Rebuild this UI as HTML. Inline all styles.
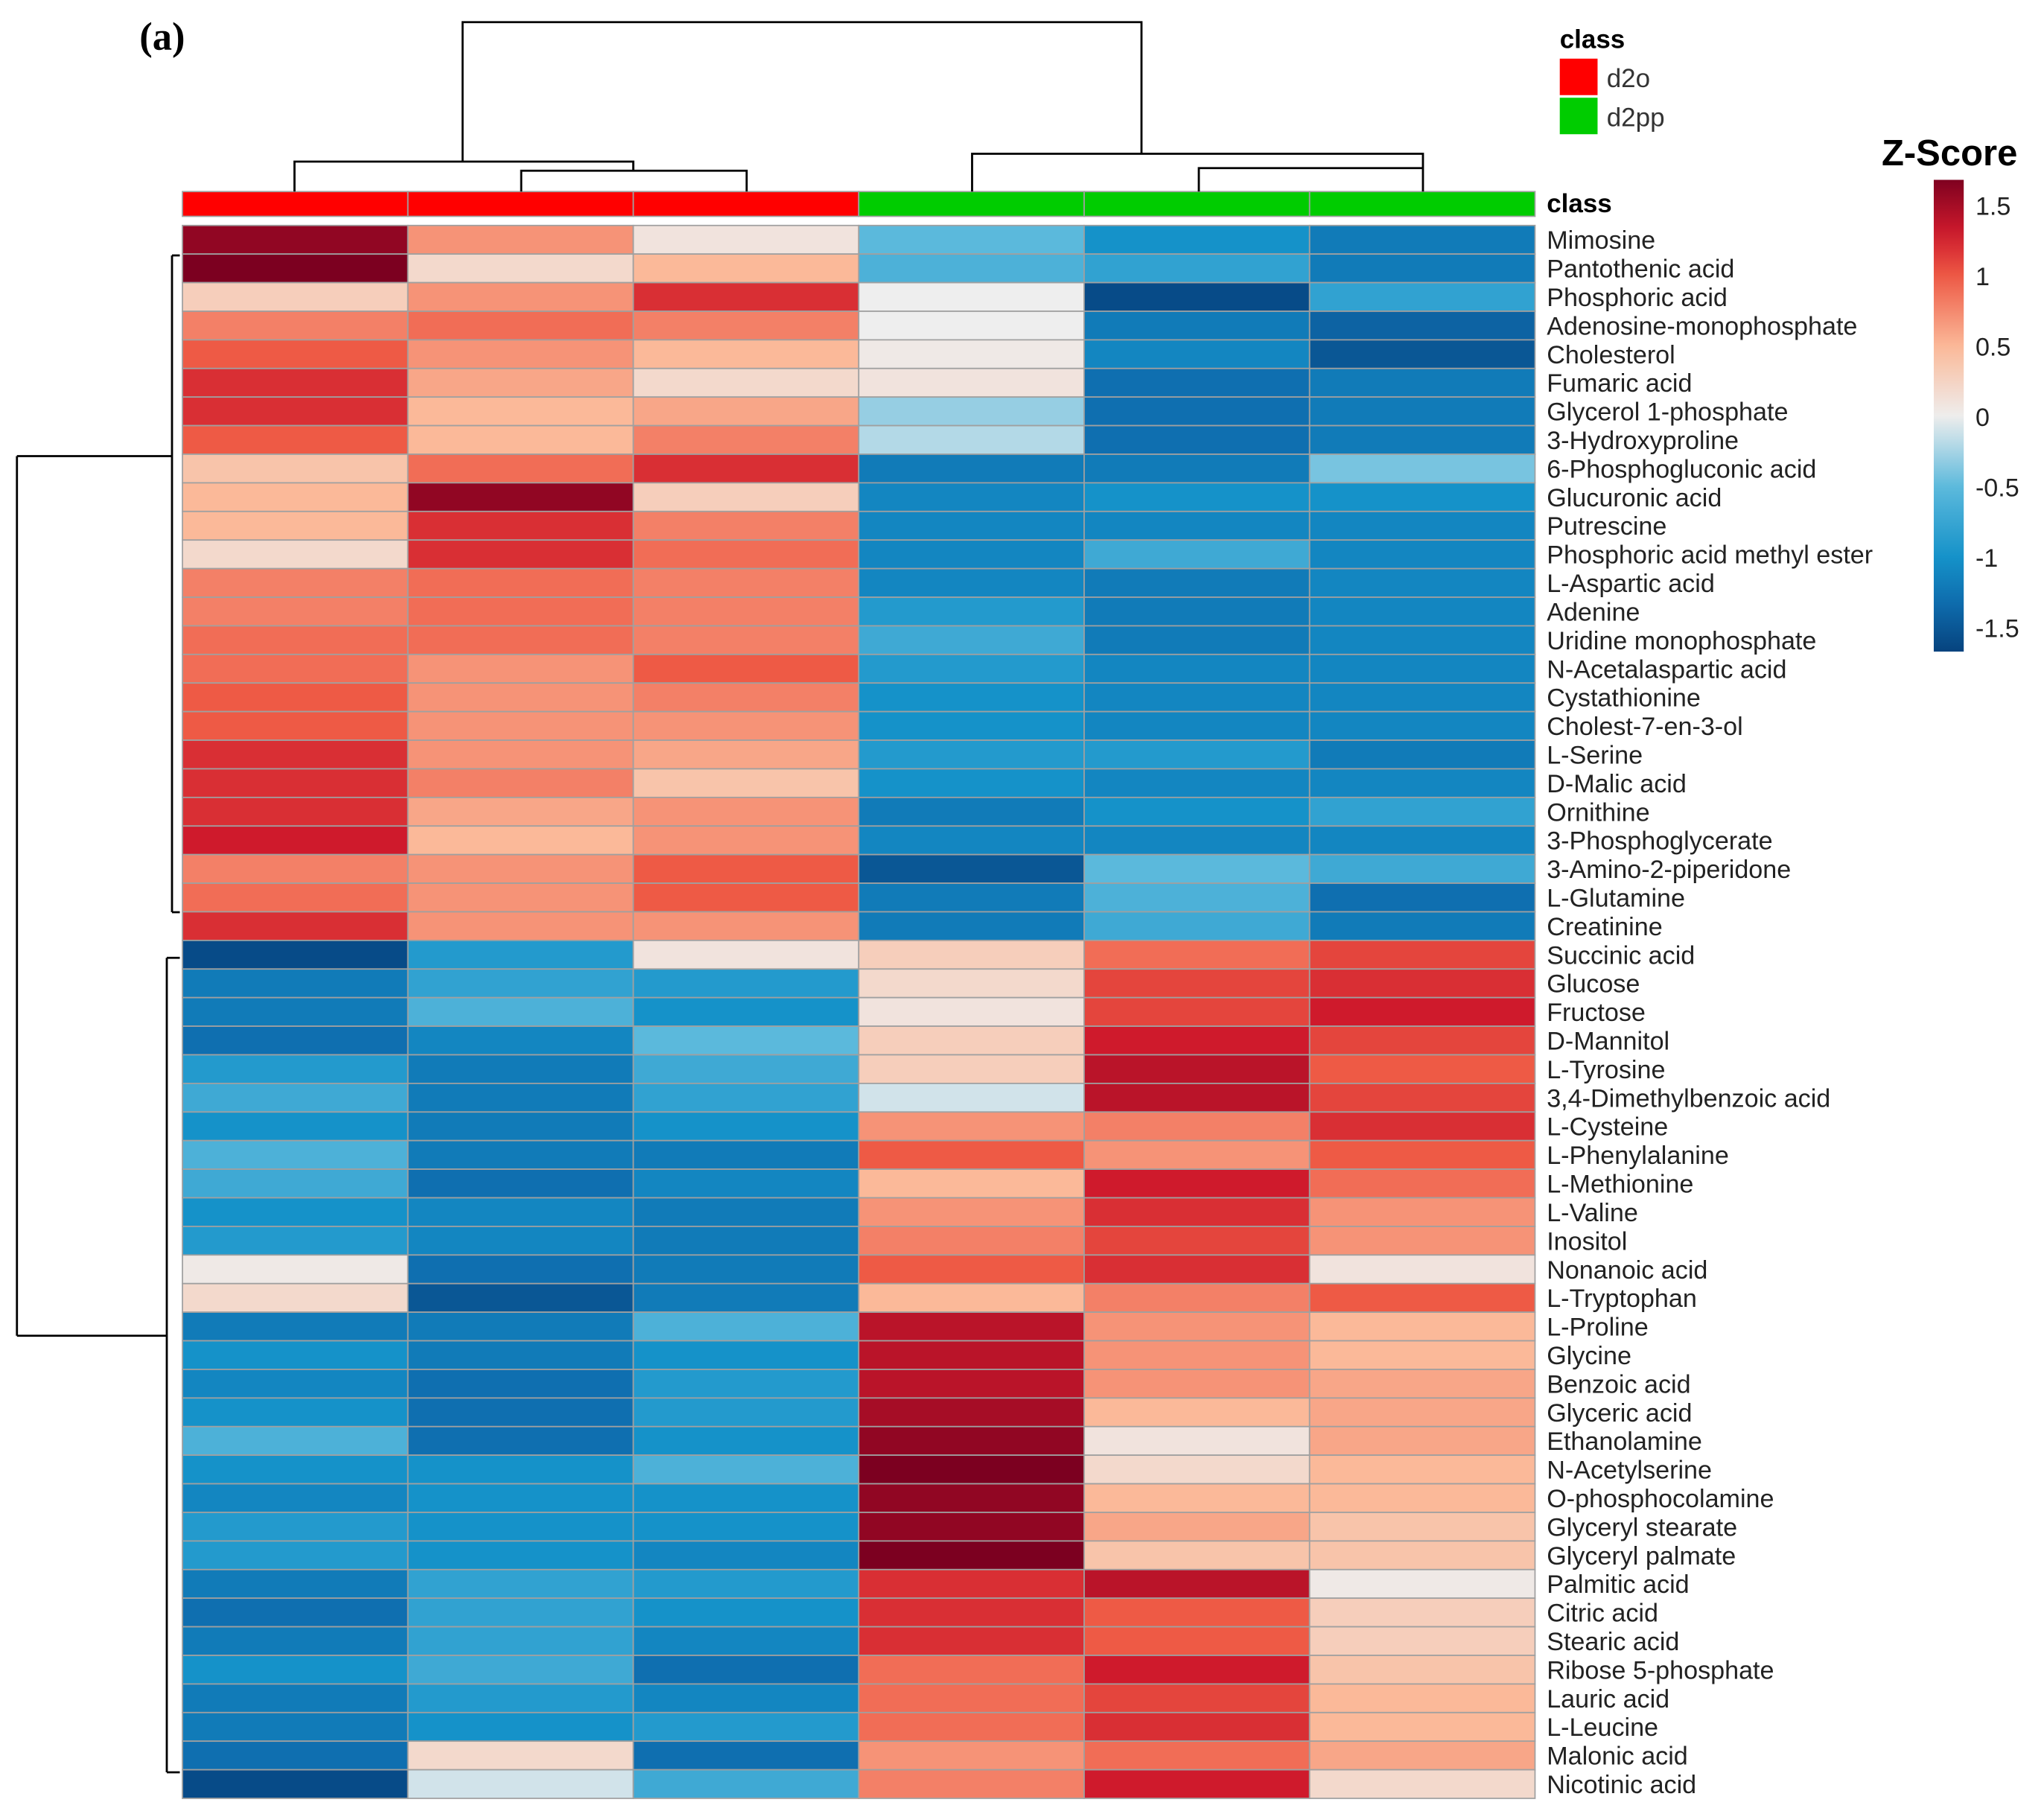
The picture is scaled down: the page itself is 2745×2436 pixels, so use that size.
<!DOCTYPE html>
<html><head><meta charset="utf-8"><style>
html,body{margin:0;padding:0;background:#fff;}
svg{display:block;font-family:"Liberation Sans",sans-serif;}
</style></head><body>
<svg id="chart" width="2745" height="2436" viewBox="0 0 1568.6 1392" preserveAspectRatio="none" xmlns="http://www.w3.org/2000/svg">
<text x="107" y="38" font-family="Liberation Serif" font-weight="bold" font-size="30">(a)</text>
<g id="cells"></g>
<g id="labels"></g>
<g id="dendro" stroke="#000" stroke-width="1.6" fill="none">
<path d="M355,124 V17 H876 V118 M226,147 V124 H486 V131 M400,147 V131 H573 V147 M486,131 V124 M746,147 V118 H1092 V129 M920,147 V129 H1092 V147"/>
<path d="M13,350 V1025 M13,350 H132 M13,1025 H128 M132,196 V700 M128,735 V1360 M132,196 H138 M132,700 H138 M128,735 H138 M128,1360 H138"/>
</g>
<text x="1187" y="163" font-weight="bold" font-size="20">class</text>
<g>
<text x="1197" y="37" font-weight="bold" font-size="20">class</text>
<rect x="1197" y="45" width="29" height="28" fill="#ff0000"/>
<text x="1233" y="67" font-size="20" fill="#333">d2o</text>
<rect x="1197" y="75" width="29" height="28" fill="#00cc00"/>
<text x="1233" y="97" font-size="20" fill="#333">d2pp</text>
</g>
<text x="1444" y="127" font-weight="bold" font-size="28">Z-Score</text>
<defs><linearGradient id="cg" x1="0" y1="1" x2="0" y2="0"></linearGradient></defs>
<rect x="1484" y="138" width="23" height="362" fill="url(#cg)"/>
<g id="cbticks"></g>
</svg>
<script>
const rowNames=["Mimosine","Pantothenic acid","Phosphoric acid","Adenosine-monophosphate","Cholesterol","Fumaric acid","Glycerol 1-phosphate","3-Hydroxyproline","6-Phosphogluconic acid","Glucuronic acid","Putrescine","Phosphoric acid methyl ester","L-Aspartic acid","Adenine","Uridine monophosphate","N-Acetalaspartic acid","Cystathionine","Cholest-7-en-3-ol","L-Serine","D-Malic acid","Ornithine","3-Phosphoglycerate","3-Amino-2-piperidone","L-Glutamine","Creatinine","Succinic acid","Glucose","Fructose","D-Mannitol","L-Tyrosine","3,4-Dimethylbenzoic acid","L-Cysteine","L-Phenylalanine","L-Methionine","L-Valine","Inositol","Nonanoic acid","L-Tryptophan","L-Proline","Glycine","Benzoic acid","Glyceric acid","Ethanolamine","N-Acetylserine","O-phosphocolamine","Glyceryl stearate","Glyceryl palmate","Palmitic acid","Citric acid","Stearic acid","Ribose 5-phosphate","Lauric acid","L-Leucine","Malonic acid","Nicotinic acid"];
const colClasses=["d2o","d2o","d2o","d2pp","d2pp","d2pp"];
const zValues=[
[1.6,0.7,0.1,-0.5,-1.0,-1.2],[1.7,0.2,0.5,-0.6,-0.8,-1.2],[0.3,0.7,1.2,0.0,-1.6,-0.8],[0.8,0.9,0.8,0.0,-1.2,-1.4],[1.0,0.7,0.5,0.05,-1.1,-1.5],
[1.2,0.6,0.2,0.1,-1.3,-1.2],[1.2,0.5,0.6,-0.3,-1.3,-1.2],[1.0,0.5,0.8,-0.2,-1.3,-1.2],[0.4,0.9,1.2,-1.2,-1.2,-0.4],[0.5,1.6,0.3,-1.1,-1.0,-1.0],
[0.5,1.2,0.8,-1.1,-1.1,-1.1],[0.2,1.2,0.9,-1.1,-0.7,-1.1],[0.8,0.9,0.8,-1.1,-1.2,-1.1],[0.8,0.9,0.8,-0.9,-1.2,-1.1],[0.9,0.9,0.8,-0.7,-1.2,-1.1],
[0.9,0.7,1.0,-0.9,-1.1,-1.1],[1.0,0.7,0.8,-1.0,-1.1,-1.1],[1.0,0.7,0.7,-1.0,-1.1,-1.1],[1.2,0.7,0.6,-0.9,-0.9,-1.2],[1.2,0.8,0.4,-1.0,-1.1,-1.1],
[1.2,0.6,0.7,-1.2,-1.0,-0.8],[1.3,0.5,0.7,-1.1,-1.1,-1.1],[0.8,0.7,1.0,-1.5,-0.5,-0.7],[0.9,0.7,1.0,-1.2,-0.6,-1.3],[1.2,0.7,0.7,-1.2,-0.7,-1.2],
[-1.6,-0.9,0.1,0.3,0.9,1.1],[-1.2,-0.8,-0.9,0.2,1.1,1.2],[-1.2,-0.6,-1.0,0.1,1.1,1.3],[-1.3,-1.1,-0.5,0.3,1.3,1.1],[-0.9,-1.2,-0.7,0.3,1.4,1.0],
[-0.7,-1.2,-0.8,-0.1,1.4,1.1],[-1.0,-1.2,-1.0,0.7,0.8,1.2],[-0.6,-1.2,-1.2,1.0,0.7,1.0],[-0.7,-1.3,-1.1,0.5,1.3,0.9],[-1.0,-1.1,-1.2,0.7,1.2,0.7],
[-0.9,-1.1,-1.2,0.8,1.1,0.7],[0.05,-1.3,-1.2,1.0,1.2,0.1],[0.2,-1.5,-1.2,0.5,0.8,1.0],[-1.2,-1.2,-0.6,1.4,0.7,0.5],[-1.0,-1.2,-1.0,1.4,0.7,0.5],
[-1.1,-1.3,-0.9,1.4,0.7,0.6],[-1.0,-1.3,-0.9,1.5,0.5,0.6],[-0.6,-1.3,-1.0,1.6,0.1,0.6],[-1.0,-1.0,-0.6,1.7,0.2,0.5],[-1.1,-1.0,-1.0,1.6,0.5,0.5],
[-0.9,-1.0,-1.0,1.6,0.6,0.4],[-0.9,-1.0,-1.1,1.7,0.4,0.4],[-1.2,-0.8,-0.9,1.2,1.4,0.05],[-1.3,-0.8,-1.0,1.2,1.0,0.3],[-1.2,-0.8,-1.1,1.2,1.0,0.3],
[-1.0,-0.7,-1.3,0.9,1.3,0.4],[-1.2,-0.9,-1.1,0.9,1.1,0.5],[-1.2,-1.0,-0.9,0.9,1.2,0.5],[-1.3,0.2,-1.3,0.7,0.9,0.6],[-1.6,-0.1,-0.7,0.8,1.3,0.2]];
const cbTicks=[1.5,1,0.5,0,-0.5,-1,-1.5];
const classColors={d2o:"#ff0000",d2pp:"#00cc00"};

const NS="http://www.w3.org/2000/svg";
const X0=140,X1=1178,Y0=173,Y1=1380,CB0=158,CB1=482;
const stops=[[-1.7,[5,63,122]],[-1.3,[15,111,176]],[-1.0,[21,146,201]],[-0.5,[91,185,220]],[0,[238,238,238]],[0.5,[251,185,153]],[1.0,[238,90,69]],[1.3,[207,26,44]],[1.7,[124,0,32]]];
function color(v){
  if(v<=stops[0][0])return rgb(stops[0][1]);
  for(let i=1;i<stops.length;i++){if(v<=stops[i][0]){const a=stops[i-1],b=stops[i],t=(v-a[0])/(b[0]-a[0]);return rgb(a[1].map((c,k)=>c+(b[1][k]-c)*t));}}
  return rgb(stops[stops.length-1][1]);
}
function rgb(c){return "rgb("+c.map(Math.round).join(",")+")";}
const nC=colClasses.length,nR=rowNames.length;
function xS(j){return X0+j*(X1-X0)/nC;}
function yS(i){return Y0+i*(Y1-Y0)/nR;}
function cbY(v){return CB1+(v-(-1.5))*(CB0-CB1)/3;}
const cells=document.getElementById('cells');
const labels=document.getElementById('labels');
const cw=(X1-X0)/nC,rh=(Y1-Y0)/nR;
colClasses.forEach((c,j)=>{
  const r=document.createElementNS(NS,'rect');
  r.setAttribute('x',xS(j));r.setAttribute('y',147);r.setAttribute('width',cw);r.setAttribute('height',19);
  r.setAttribute('fill',classColors[c]);r.setAttribute('stroke','#a0a0a0');r.setAttribute('stroke-width','1');
  
  
  cells.appendChild(r);
});
zValues.forEach((row,i)=>{
  row.forEach((v,j)=>{
    const r=document.createElementNS(NS,'rect');
    r.setAttribute('x',xS(j));r.setAttribute('y',yS(i));r.setAttribute('width',cw);r.setAttribute('height',rh);
    r.setAttribute('fill',color(v));r.setAttribute('stroke','#a0a0a0');r.setAttribute('stroke-width','1');
    
    
    cells.appendChild(r);
  });
  const t=document.createElementNS(NS,'text');
  t.setAttribute('x',1187);t.setAttribute('y',yS(i)+rh/2+7);t.setAttribute('font-size','19.5');t.setAttribute('fill','#222');
  t.textContent=rowNames[i];
  
  
  labels.appendChild(t);
});
const g=document.getElementById('cg');
for(let k=0;k<=20;k++){const v=-1.667+k*(3.352/20);const s=document.createElementNS(NS,'stop');s.setAttribute('offset',(k/20));s.setAttribute('stop-color',color(v));g.appendChild(s);}
const cbt=document.getElementById('cbticks');
cbTicks.forEach(v=>{
  const t=document.createElementNS(NS,'text');
  t.setAttribute('x',1516);t.setAttribute('y',cbY(v)+7);t.setAttribute('font-size','19.5');t.setAttribute('fill','#222');
  t.textContent=String(v);
  
  
  cbt.appendChild(t);
});
</script>
</body></html>
